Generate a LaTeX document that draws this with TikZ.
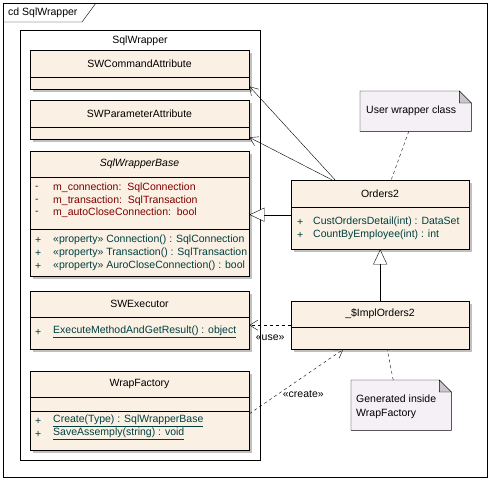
\documentclass[tikz,border=0pt]{standalone}
\usepackage{fontspec}
\setmainfont{Liberation Sans}
\usetikzlibrary{arrows.meta,shadows}

\definecolor{clsfill}{RGB}{250,240,228}
\definecolor{notefill}{RGB}{244,240,245}
\definecolor{foldfill}{RGB}{200,200,200}
\definecolor{shadowgray}{RGB}{192,192,192}
\definecolor{attrred}{RGB}{128,0,0}
\definecolor{opteal}{RGB}{0,64,64}

\tikzset{
  frame/.style={draw, anchor=north west, inner sep=0pt},
  cls/.style={draw, fill=clsfill, anchor=north west, inner sep=0pt, minimum width=219pt,
    drop shadow={shadow xshift=3pt, shadow yshift=-3pt, fill=shadowgray, opacity=1}},
  title/.style={inner sep=0pt},
  member/.style={anchor=west, inner sep=0pt},
  attr/.style={member, text=attrred},
  op/.style={member, text=opteal},
  notebox/.style={anchor=north west, inner sep=0pt},
  gen/.style={-{Triangle[open, length=15pt, width=14pt, fill=white]}},
  assoc/.style={-{Straight Barb[length=8pt, width=10pt]}},
  dep/.style={assoc, dash pattern=on 3pt off 3pt},
  notelink/.style={dash pattern=on 3pt off 3pt}
}

\begin{document}
\begin{tikzpicture}[x=1pt, y=-1pt, font=\fontsize{10.5}{14}\selectfont]
        \useasboundingbox (0,0) rectangle (490,480);

        % Frame and package
        \node[frame, minimum width=484pt, minimum height=474pt] (frame) at (3,3) {};
        \node[member] (frametitle) at (8,13) {cd SqlWrapper};
        \draw (3,22) -- (82,22) -- (96,3);
        \node[frame, minimum width=240pt, minimum height=430pt] (pkg) at (20,30) {};
        \node[title] (pkgtitle) at (140,41) {SqlWrapper};

        % Classes
        \node[cls, minimum height=39pt] (cmd) at (30,50) {};
        \draw ([yshift=-27pt]cmd.north west) -- ([yshift=-27pt]cmd.north east);
        \node[title] (cmdtitle) at (139.5,64) {SWCommandAttribute};

        \node[cls, minimum height=39pt] (param) at (30,100) {};
        \draw ([yshift=-27pt]param.north west) -- ([yshift=-27pt]param.north east);
        \node[title] (paramtitle) at (139.5,114) {SWParameterAttribute};

        \node[cls, minimum height=125pt] (base) at (30,151) {};
        \draw ([yshift=-26pt]base.north west) -- ([yshift=-26pt]base.north east);
        \draw ([yshift=-78pt]base.north west) -- ([yshift=-78pt]base.north east);
        \node[title] (basetitle) at (139.5,164) {\itshape SqlWrapperBase};
        \node[attr] (basea1s) at (35,188) {-};
        \node[attr] (basea1) at (53,188) {m\_connection:\ \ SqlConnection};
        \node[attr] (basea2s) at (35,201) {-};
        \node[attr] (basea2) at (53,201) {m\_transaction:\ \ SqlTransaction};
        \node[attr] (basea3s) at (35,213) {-};
        \node[attr] (basea3) at (53,213) {m\_autoCloseConnection:\ \ bool};
        \node[op] (baseo1s) at (35,240) {+};
        \node[op] (baseo1) at (53,240) {«property» Connection() : SqlConnection};
        \node[op] (baseo2s) at (35,253) {+};
        \node[op] (baseo2) at (53,253) {«property» Transaction() : SqlTransaction};
        \node[op] (baseo3s) at (35,266) {+};
        \node[op] (baseo3) at (53,266) {«property» AuroCloseConnection() : bool};

        \node[cls, minimum height=58pt] (exec) at (30,291) {};
        \draw ([yshift=-26pt]exec.north west) -- ([yshift=-26pt]exec.north east);
        \node[title] (exectitle) at (139.5,304) {SWExecutor};
        \node[op] (execo1s) at (35,332) {+};
        \node[op] (execo1) at (53,332) {\underline{ExecuteMethodAndGetResult() : object}};

        \node[cls, minimum height=79pt] (fact) at (30,371) {};
        \draw ([yshift=-26pt]fact.north west) -- ([yshift=-26pt]fact.north east);
        \draw ([yshift=-40pt]fact.north west) -- ([yshift=-40pt]fact.north east);
        \node[title] (facttitle) at (139.5,384) {WrapFactory};
        \node[op] (facto1s) at (35,421) {+};
        \node[op] (facto1) at (53,421) {\underline{Create(Type) : SqlWrapperBase}};
        \node[op] (facto2s) at (35,434) {+};
        \node[op] (facto2) at (53,434) {\underline{SaveAssemply(string) : void}};

        \node[cls, minimum width=178pt, minimum height=69pt] (orders) at (291,180) {};
        \draw ([yshift=-27pt]orders.north west) -- ([yshift=-27pt]orders.north east);
        \node[title] (orderstitle) at (380,194) {Orders2};
        \node[op] (orderso1s) at (297,222) {+};
        \node[op] (orderso1) at (313,222) {CustOrdersDetail(int) : DataSet};
        \node[op] (orderso2s) at (297,235) {+};
        \node[op] (orderso2) at (313,235) {CountByEmployee(int) : int};

        \node[cls, minimum width=178pt, minimum height=48pt] (impl) at (291,301) {};
        \draw ([yshift=-26pt]impl.north west) -- ([yshift=-26pt]impl.north east);
        \node[title] (impltitle) at (380,314) {\_\$ImplOrders2};

        % Notes
        \node[notebox, minimum width=111pt, minimum height=40pt] (usernote) at (360,91) {};
        \draw[fill=notefill] (usernote.north west) -- ([xshift=-12pt]usernote.north east)
            -- ([yshift=-12pt]usernote.north east) -- (usernote.south east)
            -- (usernote.south west) -- cycle;
        \draw[fill=foldfill] ([xshift=-12pt]usernote.north east) -- ([xshift=-12pt,yshift=-12pt]usernote.north east)
            -- ([yshift=-12pt]usernote.north east) -- cycle;
        \node[member] (usernotetext) at (366,111) {User wrapper class};

        \node[notebox, minimum width=100pt, minimum height=50pt] (gennote) at (351,380) {};
        \draw[fill=notefill] (gennote.north west) -- ([xshift=-12pt]gennote.north east)
            -- ([yshift=-12pt]gennote.north east) -- (gennote.south east)
            -- (gennote.south west) -- cycle;
        \draw[fill=foldfill] ([xshift=-12pt]gennote.north east) -- ([xshift=-12pt,yshift=-12pt]gennote.north east)
            -- ([yshift=-12pt]gennote.north east) -- cycle;
        \node[member, align=left] (gennotetext) at (356,407) {Generated inside\\WrapFactory};

        % Arrows
        \draw[assoc] ([xshift=-45pt]orders.north) -- ([yshift=3pt]cmd.south east);
        \draw[assoc] ([xshift=-48pt]orders.north) -- ([yshift=2pt]param.south east);
        \draw[gen] (orders.west) -- (orders.west -| base.east);
        \draw[gen] (impl.north) -- (orders.south);
        \draw[dep] (impl.west) -- (impl.west -| exec.east)
            node[midway, below=9pt, inner sep=0pt] (uselabel) {«use»};
        \draw[dep] ([yshift=-3pt]fact.east) -- ([xshift=-37pt]impl.south)
            node[pos=0.5, xshift=7pt, yshift=-13pt, inner sep=0pt] (createlabel) {«create»};
        \draw[notelink] ([xshift=-7pt]usernote.south) -- ([xshift=11pt]orders.north);
        \draw[notelink] ([xshift=-8pt]gennote.north) -- ([xshift=7pt]impl.south);
\end{tikzpicture}
\end{document}
